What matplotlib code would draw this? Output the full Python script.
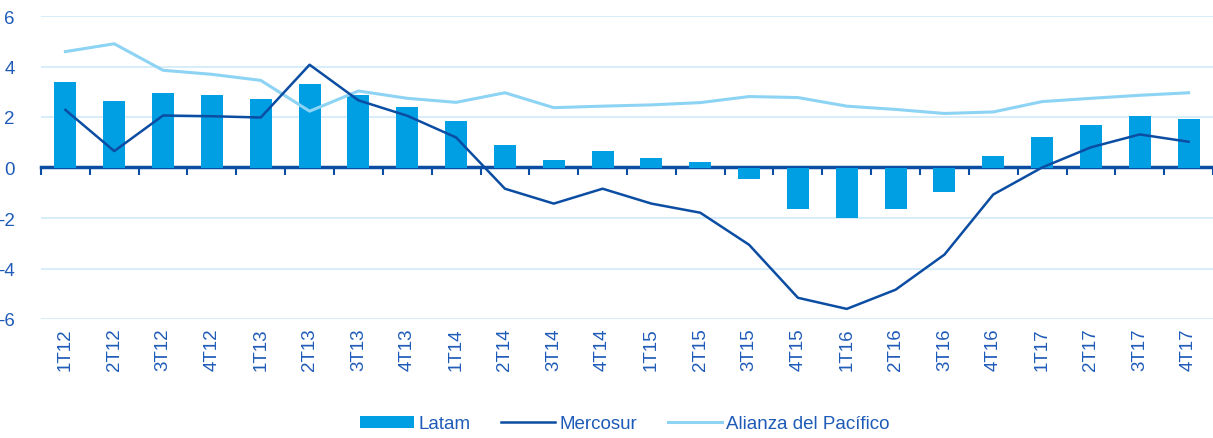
import matplotlib.pyplot as plt

# ---- data ----
quarters = ["1T12", "2T12", "3T12", "4T12", "1T13", "2T13", "3T13", "4T13",
            "1T14", "2T14", "3T14", "4T14", "1T15", "2T15", "3T15", "4T15",
            "1T16", "2T16", "3T16", "4T16", "1T17", "2T17", "3T17", "4T17"]

latam = [3.37, 2.62, 2.94, 2.86, 2.70, 3.29, 2.86, 2.38,
         1.85, 0.91, 0.30, 0.67, 0.38, 0.22, -0.45, -1.63,
         -2.00, -1.63, -0.96, 0.44, 1.21, 1.69, 2.04, 1.94]

mercosur = [2.28, 0.65, 2.06, 2.03, 1.98, 4.07, 2.66, 2.05,
            1.19, -0.84, -1.43, -0.84, -1.43, -1.79, -3.06, -5.16,
            -5.60, -4.84, -3.45, -1.07, 0.00, 0.80, 1.31, 1.02]

alianza = [4.59, 4.90, 3.85, 3.69, 3.45, 2.23, 3.03, 2.74,
           2.58, 2.96, 2.37, 2.43, 2.48, 2.57, 2.81, 2.77,
           2.43, 2.30, 2.14, 2.20, 2.61, 2.74, 2.86, 2.96]

yticks = [-6, -4, -2, 0, 2, 4, 6]

# colors
c_bar = "#009FE3"
c_merc = "#0B4DA2"
c_ali = "#8DD3F4"
c_grid = "#CFEAF8"
c_text = "#1E5BB8"

plt.rcParams["font.family"] = ["Liberation Sans", "DejaVu Sans"]

fig = plt.figure(figsize=(12.13, 4.39), dpi=100)
ax = fig.add_axes([41 / 1213, 1 - 320 / 439, 1 - 41 / 1213, (320 - 17) / 439])

x = list(range(len(quarters)))

ax.set_ylim(-6, 6)
ax.set_xlim(-0.5, len(quarters) - 0.5)

# light horizontal grid
for yv in yticks:
    if yv != 0:
        ax.axhline(yv, color=c_grid, lw=1.2, zorder=0)

bars = ax.bar(x, latam, width=0.45, color=c_bar, zorder=2, label="Latam")
l_merc, = ax.plot(x, mercosur, color=c_merc, lw=1.8, zorder=4, label="Mercosur")
l_ali, = ax.plot(x, alianza, color=c_ali, lw=2.2, zorder=3, label="Alianza del Pacífico")

# y axis
ax.set_yticks(yticks)
ax.set_yticklabels([str(v) for v in yticks], color=c_text, fontsize=13.5)
ax.tick_params(axis="y", length=0, pad=19)

# category labels at the bottom, rotated
ax.set_xticks(x)
ax.set_xticklabels(quarters, rotation=90, color=c_text, fontsize=13.5)
ax.tick_params(axis="x", length=0, pad=6)

for s in ax.spines.values():
    s.set_visible(False)

# zero axis with tick marks between categories
sec = ax.secondary_xaxis(0.5)
sec.set_xticks([i - 0.5 for i in range(len(quarters) + 1)])
sec.set_xticklabels([])
sec.tick_params(axis="x", direction="in", length=6, width=1.5, color=c_merc)
for s in sec.spines.values():
    s.set_color(c_merc)
    s.set_linewidth(2.5)

leg = fig.legend([bars, l_merc, l_ali], ["Latam", "Mercosur", "Alianza del Pacífico"],
                 loc="center", bbox_to_anchor=(625 / 1213, 1 - 425 / 439),
                 ncol=3, frameon=False, fontsize=13.5, handlelength=2.85,
                 handleheight=0.57, columnspacing=1.65, handletextpad=0.25)
for t in leg.get_texts():
    t.set_color(c_text)

fig.savefig("out.png", dpi=100)
